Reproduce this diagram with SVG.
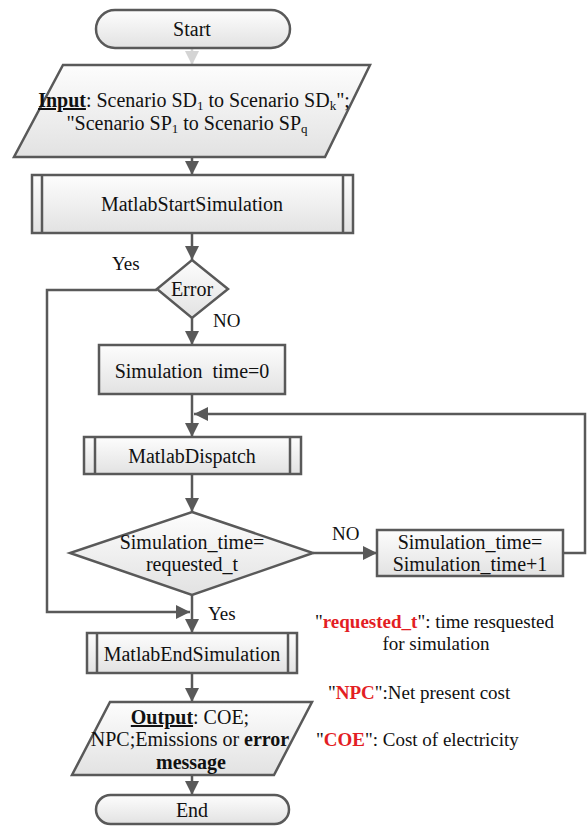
<svg xmlns="http://www.w3.org/2000/svg" width="587" height="826" viewBox="0 0 587 826">
<style>
.n{fill:url(#g);stroke:#595959;stroke-width:2.5;stroke-linejoin:miter}
.il{stroke:#595959;stroke-width:2.5}
.t{font-family:"Liberation Serif","Times New Roman",serif;font-size:20px;fill:#111;text-anchor:middle}
.l{font-family:"Liberation Serif","Times New Roman",serif;font-size:19px;fill:#111}
.c{fill:none;stroke:#595959;stroke-width:2.5}
.r{fill:#e31e24;font-weight:bold}
</style>
<defs>
<linearGradient id="g" x1="0" y1="0" x2="0" y2="1">
<stop offset="0" stop-color="#fdfdfd"/>
<stop offset="1" stop-color="#e2e2e2"/>
</linearGradient>
<marker id="a" markerUnits="userSpaceOnUse" markerWidth="14" markerHeight="14" viewBox="0 0 12 12" refX="12" refY="6" orient="auto">
<path d="M0,0 L12,6 L0,12 Z" fill="#595959"/>
</marker>
<marker id="a2" markerUnits="userSpaceOnUse" markerWidth="14" markerHeight="14" viewBox="0 0 12 12" refX="12" refY="6" orient="auto">
<path d="M0,0 L12,6 L0,12 Z" fill="#d4d4d4"/>
</marker>
</defs>

<g id="connectors">
<line x1="192" y1="49" x2="192" y2="65" stroke="#d4d4d4" stroke-width="2.5" marker-end="url(#a2)"/>
<line class="c" x1="192" y1="157" x2="192" y2="175" marker-end="url(#a)"/>
<line class="c" x1="192" y1="233" x2="192" y2="260" marker-end="url(#a)"/>
<polyline class="c" points="157,290 47,290 47,612 190,612" marker-end="url(#a)"/>
<line class="c" x1="192" y1="318" x2="192" y2="345" marker-end="url(#a)"/>
<line class="c" x1="192" y1="394" x2="192" y2="437" marker-end="url(#a)"/>
<line class="c" x1="192" y1="474" x2="192" y2="512" marker-end="url(#a)"/>
<line class="c" x1="313" y1="553" x2="377" y2="553" marker-end="url(#a)"/>
<polyline class="c" points="563,553 585,553 585,414 194,414" marker-end="url(#a)"/>
<line class="c" x1="192" y1="595" x2="192" y2="633" marker-end="url(#a)"/>
<line class="c" x1="192" y1="673" x2="192" y2="702" marker-end="url(#a)"/>
<line class="c" x1="192" y1="775" x2="192" y2="795" marker-end="url(#a)"/>
<text class="l" x="112" y="270">Yes</text>
<text class="l" x="213" y="327">NO</text>
<text class="l" x="332" y="540">NO</text>
<text class="l" x="208" y="620">Yes</text>
</g>

<g id="start">
<rect class="n" x="96" y="10" width="194" height="38" rx="19"/>
<text class="t" x="192" y="36">Start</text>
</g>

<g id="input">
<polygon class="n" points="63,65 370,65 325,157 14,157"/>
<text class="t" x="194" y="107"><tspan font-weight="bold" text-decoration="underline">Input</tspan>: Scenario SD<tspan font-size="13" dy="3">1</tspan><tspan dy="-3"> to Scenario SD</tspan><tspan font-size="13" dy="3">k</tspan><tspan dy="-3">";</tspan></text>
<text class="t" x="187" y="130">"Scenario SP<tspan font-size="13" dy="3">1</tspan><tspan dy="-3"> to Scenario SP</tspan><tspan font-size="13" dy="3">q</tspan></text>
</g>

<g id="matlab-start">
<rect class="n" x="32" y="175" width="321" height="58"/>
<line class="il" x1="42" y1="175" x2="42" y2="233"/>
<line class="il" x1="343" y1="175" x2="343" y2="233"/>
<text class="t" x="192" y="211">MatlabStartSimulation</text>
</g>

<g id="error">
<polygon class="n" points="192,260 228,289 192,318 157,289"/>
<text class="t" x="192" y="296">Error</text>
</g>

<g id="sim-time-0">
<rect class="n" x="99" y="345" width="186" height="49"/>
<text class="t" x="192" y="378" xml:space="preserve">Simulation  time=0</text>
</g>

<g id="matlab-dispatch">
<rect class="n" x="84" y="437" width="217" height="37"/>
<line class="il" x1="95" y1="437" x2="95" y2="474"/>
<line class="il" x1="290" y1="437" x2="290" y2="474"/>
<text class="t" x="192" y="463">MatlabDispatch</text>
</g>

<g id="check-time">
<polygon class="n" points="192,512 313,553 192,595 70,553"/>
<text class="t" x="192" y="549">Simulation_time=</text>
<text class="t" x="192" y="571">requested_t</text>
</g>

<g id="increment">
<rect class="n" x="377" y="530" width="186" height="46"/>
<text class="t" x="470" y="549">Simulation_time=</text>
<text class="t" x="470" y="571">Simulation_time+1</text>
</g>

<g id="matlab-end">
<rect class="n" x="87" y="633" width="210" height="40"/>
<line class="il" x1="97" y1="633" x2="97" y2="673"/>
<line class="il" x1="288" y1="633" x2="288" y2="673"/>
<text class="t" x="192" y="661">MatlabEndSimulation</text>
</g>

<g id="output">
<polygon class="n" points="110,702 312,702 274,775 72,775"/>
<text class="t" x="190" y="724"><tspan font-weight="bold" text-decoration="underline">Output</tspan>: COE;</text>
<text class="t" x="190" y="746">NPC;Emissions or <tspan font-weight="bold">error</tspan></text>
<text class="t" x="191" y="769" font-weight="bold">message</text>
</g>

<g id="end">
<rect class="n" x="96" y="795" width="193" height="29" rx="14.5"/>
<text class="t" x="192" y="817">End</text>
</g>

<g id="notes">
<text class="l" x="315" y="628" font-size="20">"<tspan class="r">requested_t</tspan>": time resquested</text>
<text class="l" x="436" y="650" font-size="20" text-anchor="middle">for simulation</text>
<text class="l" x="328" y="699" font-size="20">"<tspan class="r">NPC</tspan>":Net present cost</text>
<text class="l" x="316" y="746" font-size="20">"<tspan class="r">COE</tspan>": Cost of electricity</text>
</g>
</svg>
